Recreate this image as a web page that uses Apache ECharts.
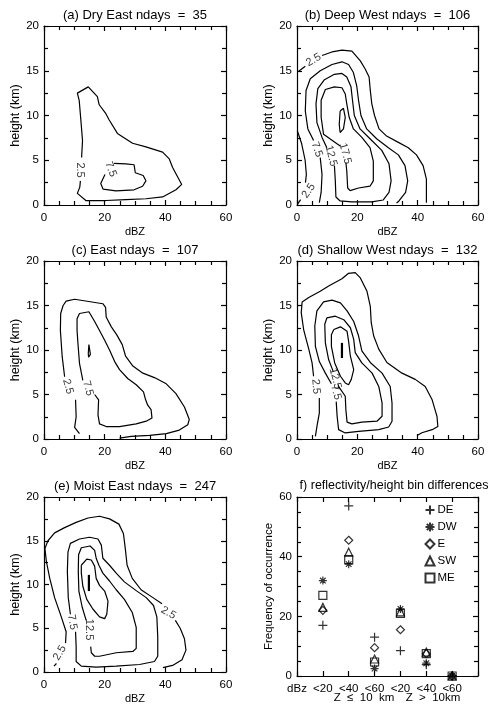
<!DOCTYPE html>
<html>
<head>
<meta charset="utf-8">
<script src="https://cdn.jsdelivr.net/npm/echarts@6/dist/echarts.min.js"></script>
<style>
  html, body { margin: 0; padding: 0; background: #fff; }
  #chart { width: 492px; height: 705px; }
</style>
</head>
<body>
<div id="chart"></div>
<script>
// contour lines, each level is a list of segments of [dBZ, height km]
const dryEast25 = [[[12.4,5.3],[12.7,7.2],[12.1,9.7],[11.6,11.7],[11,12.5],[14.6,13.2],[17.6,12.1],[18.2,11.2],[20.4,10.2],[21.5,9.5],[24.2,8.0],[29.2,6.9],[33.6,6.5],[39.1,5.9],[41.3,5.15],[42.4,4.2],[43.5,3.5],[45.4,2.3],[43.5,1.7],[39.1,0.9],[33.6,0.7],[27,0.6],[20.4,0.5],[13.8,0.5],[11,1.3],[11.8,2.0],[12,2.7]]];
const dryEast75 = [[[23.1,4.66],[27,4.6],[29.7,4.5],[30.1,3.6],[32.7,3.3],[33.6,2.7],[32.5,2.1],[29.7,1.7],[23.7,1.58],[19.5,1.77],[18.7,2.4],[20.1,3.4]]];

const deepWest25 = [
  [[0.55,14.95],[2.75,15.5]],
  [[8.3,16.7],[11.6,17.1],[14.9,17.3],[18.2,17.2],[21.0,16.1],[22.6,15.2],[23.9,14.3],[24.3,12.8],[24.8,11.3],[25.7,10.0],[27.2,8.5],[29.7,7.7],[33.6,7.0],[36.9,6.4],[39.6,5.6],[41.8,4.4],[42.9,2.9],[42.9,1.6],[42.9,0.26]],
  [[0.1,8.3],[1.5,6.9],[2.7,5.0],[3.1,3.4],[2.8,2.5]],
  [[1.2,0.6],[0.3,0.15]]
];
const deepWest75 = [
  [[5.5,7.2],[3.6,8.5],[2.75,10.5],[3.0,12.8],[4.4,14.1],[7.7,15.0],[11.6,15.7],[14.9,16.0],[17.1,15.7],[18.7,14.8],[19.8,13.3],[20.4,11.7],[21.2,10.0],[23.1,8.5],[26.4,7.4],[30.3,6.4],[33.6,5.6],[35.8,4.4],[36.7,2.7],[36,1.4],[33.8,0.45],[33,0.22]],
  [[7.7,5.3],[8.3,3.4],[8.0,1.4],[7.4,0.26]]
];
const deepWest125 = [
  [[9.9,6.4],[8.3,7.55],[6.6,9.2],[6.3,11.3],[6.9,13],[9.1,14],[12.4,14.6],[14.9,14.7],[16.5,14.3],[17.9,13.2],[18.4,11.7],[19,10],[20.9,8.5],[24.2,7.4],[28.1,6.1],[30.5,4.6],[31.2,2.7],[30.5,1.4],[28.6,0.56],[24.8,0.34],[18.2,0.34],[14.3,0.45],[12.9,0.9],[12.7,2.7],[12.4,4.4]]
];
const deepWest175 = [
  [[14.3,6.6],[8.8,7.9],[8.0,9.8],[8,11.7],[9.4,12.9],[12.4,13.2],[14.9,13.1],[16,12.4],[16.5,11.3],[17.3,9.8],[18.7,8.5],[21.5,7.55],[24.2,6.4],[25.3,4.9],[25.3,2.7],[24.2,2.1],[20.4,1.9],[17.6,1.6],[16.8,1.9],[16.5,3.8],[16.2,4.75]]
];
const deepWest225 = [[[14.3,10.5],[15.4,10.8],[16,9.8],[15.4,8.5],[14.3,8.1],[14,9],[14.3,10.5]]];

const east25 = [
  [[6.8,7.0],[6.0,9.25],[5.4,12.2],[5.5,14.1],[6.3,15.0],[7.3,15.5],[10.1,15.7],[19.4,15.2],[20.3,14.8],[20.5,13.7],[22.2,12.6],[24,11.7],[25.8,10.6],[26.9,9.3],[29.3,8.2],[32.6,7.4],[36.4,6.9],[40.3,6.2],[43.5,5.1],[46.3,3.6],[47.9,2.2],[47.4,1.6],[44.6,1.0],[40.3,0.6],[34.8,0.4],[28.7,0.3],[24.9,0.1]],
  [[10.4,4.4],[10.6,2.5],[10.1,1.3],[11.7,0.6]]
];
const east75 = [
  [[12.8,6.6],[11.7,8.5],[11.2,10.7],[10.9,12.2],[10.9,13.5],[11.7,14.1],[14.8,14.3],[16.7,13.2],[18.3,12.2],[20,11.1],[21.6,10],[23.3,8.7],[24.9,7.8],[27.6,6.8],[30.4,6.1],[32.8,5.3],[33.5,4.4],[34.2,3.8],[35.3,3.3],[35.6,2.35],[33.7,2.0],[30.4,1.7],[24.9,1.4],[20.5,1.4],[18.3,1.7],[17.8,2.7],[18,4.4],[16.7,5.0]]
];
const east125 = [[[14.8,10.6],[15.2,10.4],[15.3,9.5],[14.7,9.2],[14.6,9.6],[14.8,10.6]]];

const shallowWest25 = [
  [[5.5,7.05],[5.0,8.55],[3.9,10.1],[2.2,12.3],[1.4,14.2],[1.7,15.4],[3.9,15.9],[7.7,16.6],[10.5,17.2],[14.9,18.0],[17,18.6],[19.3,18.7],[21,18.1],[23.2,16.6],[24.3,14.9],[24.6,13.1],[25.4,11.6],[27.1,10.1],[29.8,8.6],[34.8,7.4],[39.2,6.7],[42.5,5.9],[44.8,4.4],[46.4,2.55],[46.7,1.4],[44.8,1.05],[41.4,0.7],[39.8,0.4]],
  [[7.4,4.6],[7.4,2.9],[6.6,1.4],[6.1,0.3]]
];
const shallowWest75 = [
  [[11.4,6.2],[9.4,7.4],[7.4,8.7],[6.1,10.4],[5.9,12.7],[6.6,14.4],[8.8,15.4],[11.6,15.6],[14.4,15.3],[16.6,14.4],[18.8,13.2],[20.4,11.6],[21.5,9.9],[24.3,8.6],[28.2,7.4],[30.9,5.9],[31.5,4.05],[31.5,2.0],[30.4,1.35],[27.1,1.05],[20.4,0.86],[16,0.68],[13.8,1.05],[13.3,2.55],[13,4.2]]
];
const shallowWest125 = [
  [[12,7.6],[10.5,8.9],[9.4,10.8],[9.2,12.9],[9.9,13.6],[12.7,13.8],[15.5,13.4],[17.7,12.5],[18.8,11.2],[19.3,9.7],[21.5,8.55],[24.9,7.4],[27.1,5.9],[28.2,4.05],[28.2,2.55],[26.5,2.0],[21.5,1.9],[18.2,1.7],[16.6,1.9],[16.2,3.3],[16,4.8],[13.6,6.0]]
];
const shallowWest175 = [[[12.2,12.3],[14.4,12.6],[16.6,12.1],[17.1,11],[17.7,9.3],[18.8,7.8],[18,6.7],[17.1,6.1],[16,6.3],[14.4,7.05],[12.5,8.55],[11.4,10.4],[11.4,11.7],[12.2,12.3]]];
const shallowWest225 = [[[14.9,10.8],[14.9,9.1]]];

const moistEast25 = [
  [[3.3,0.67],[4.1,0.97]],
  [[7.1,3.3],[7.3,4.6],[5.7,6.3],[3.5,8.5],[1.9,10.7],[0.8,12.6],[0.3,14.1],[1.3,15.0],[3.5,15.9],[6.8,16.5],[10.6,17.1],[14.5,17.6],[18.3,17.8],[21.6,17.5],[24.7,16.9],[26.2,15.8],[26.8,14.1],[27.4,12.2],[29.1,10.7],[32,9.4],[35.9,8.5],[38.9,7.8]],
  [[43.3,5.9],[44.9,5.0],[46.3,3.8],[46.8,2.5],[45.5,1.4],[42.4,0.75],[39.2,0.5]]
];
const moistEast75 = [
  [[8.7,6.6],[8.0,8.5],[7.7,11.5],[7.9,13.7],[8.7,14.7],[11.7,15.2],[15,15.4],[17.8,15.2],[18.9,14.5],[19.4,13],[21.6,12.2],[23.8,11.3],[26.5,10.3],[30.4,9.3],[33.7,8.5],[36.1,7.6],[37.2,6.3],[37.5,4.0],[37.5,1.8],[36.4,1.2],[31.5,0.86],[23.8,0.67],[17.2,0.56],[12.3,0.67],[10.6,1.2],[10.6,2.9],[10.4,4.6]]
];
const moistEast125 = [
  [[13.9,5.9],[12.6,7.4],[11.5,9.25],[11.3,11.5],[11.4,13.4],[12.3,14.2],[15.2,14.4],[16.7,13.9],[17.2,13],[18.1,12.2],[19.4,11.3],[21.6,10.4],[23.8,9.4],[26.5,8.3],[29.1,6.8],[30.4,5.1],[30.4,2.7],[29.3,2.35],[23.8,2.2],[18.3,1.8],[16.7,1.8],[15.6,2.2],[15.4,2.9]]
];
const moistEast175 = [[[12.3,12.2],[14.1,12.9],[15.6,12.8],[16.7,12.1],[17.2,10.7],[18.3,9.9],[20,9.25],[21.1,8.1],[20.7,6.6],[20,6.1],[18.3,6.3],[16.1,7.2],[14.1,8.3],[12.8,9.8],[12.3,11.3],[12.3,12.2]]];
const moistEast225 = [[[14.8,11.1],[14.8,9.25]]];

// contour labels: [dBZ, height, text, rotation]
const dryEastLabels = [[11.8,3.9,'2.5',-90],[22,4.0,'7.5',-70]];
const deepWestLabels = [[5.5,16.2,'2.5',30],[3.85,1.6,'2.5',55],[6.6,6.2,'7.5',-70],[11.3,5.5,'12.5',-75],[16,5.75,'17.5',-75]];
const eastLabels = [[7.9,5.9,'2.5',-75],[14.5,5.7,'7.5',-75]];
const shallowWestLabels = [[6.3,5.9,'2.5',-85],[12.7,6.8,'12.5',-75],[12.9,5.25,'7.5',-75]];
const moistEastLabels = [[5.2,2.2,'2.5',60],[9.3,5.7,'7.5',-80],[14.8,4.85,'12.5',-90],[41,6.75,'2.5',-30]];

// panel f
const binLabels = ['dBz','<20','<40','<60','<20','<40','<60'];
const freqDE = [17, 57, 13, 8.5, 3.8, 0];
const freqDW = [32, 37.5, 2.5, 22.5, 4.3, 0];
const freqE = [22, 45.5, 9.5, 15.5, 7.5, 0];
const freqSW = [23, 41.5, 5.7, 21.5, 8, 0];
const freqME = [27, 39, 4.7, 21, 7.5, 0];

const panels = [
  {title: '(a) Dry East ndays  =  35', levels: [dryEast25, dryEast75], labels: dryEastLabels},
  {title: '(b) Deep West ndays  =  106', levels: [deepWest25, deepWest75, deepWest125, deepWest175, deepWest225], labels: deepWestLabels},
  {title: '(c) East ndays  =  107', levels: [east25, east75, east125], labels: eastLabels},
  {title: '(d) Shallow West ndays  =  132', levels: [shallowWest25, shallowWest75, shallowWest125, shallowWest175, shallowWest225], labels: shallowWestLabels},
  {title: '(e) Moist East ndays  =  247', levels: [moistEast25, moistEast75, moistEast125, moistEast175, moistEast225], labels: moistEastLabels}
];

const FONT = 'Liberation Sans, Arial, sans-serif';
const boxes = [
  {left: 44, top: 26, width: 182, height: 179},
  {left: 297, top: 26, width: 181, height: 179},
  {left: 44, top: 261, width: 182, height: 178},
  {left: 297, top: 261, width: 181, height: 178},
  {left: 44, top: 497, width: 182, height: 179},
  {left: 297, top: 497, width: 181, height: 179}
];

function axisPair(kind, idx, opts) {
  const base = {
    type: 'value', gridIndex: idx, min: opts.min, max: opts.max, interval: opts.interval,
    axisLine: {show: true, onZero: false, lineStyle: {color: '#000', width: 1.2}},
    axisTick: {show: true, inside: true, length: 5, lineStyle: {color: '#000', width: 1.2}},
    minorTick: {show: true, splitNumber: opts.minor, length: 4, lineStyle: {color: '#000', width: 1.2}},
    splitLine: {show: false}
  };
  const main = Object.assign({}, base, {
    position: kind === 'x' ? 'bottom' : 'left',
    name: opts.name, nameLocation: 'middle', nameGap: opts.nameGap,
    nameTextStyle: {color: '#000', fontFamily: FONT, fontSize: opts.nameSize || 11},
    axisLabel: {show: true, color: '#000', fontFamily: FONT, fontSize: 11.5, margin: kind === 'x' ? 7 : 5,
      formatter: opts.formatter}
  });
  const mirror = Object.assign({}, base, {
    position: kind === 'x' ? 'top' : 'right',
    axisLabel: {show: false}
  });
  return [main, mirror];
}

const grid = boxes.map(b => Object.assign({containLabel: false}, b));
const xAxis = [];
const yAxis = [];
const series = [];
const graphic = [];

panels.forEach((p, i) => {
  xAxis.push(...axisPair('x', i, {min: 0, max: 60, interval: 20, minor: 4, name: 'dBZ', nameGap: 21, nameSize: 11}));
  yAxis.push(...axisPair('y', i, {min: 0, max: 20, interval: 5, minor: 2, name: 'height (km)', nameGap: 17, nameSize: 12.5}));
  p.levels.forEach(level => {
    level.forEach(seg => {
      series.push({
        type: 'line', xAxisIndex: 2 * i, yAxisIndex: 2 * i, data: seg,
        symbol: 'none', smooth: false, silent: true, animation: false,
        lineStyle: {color: '#000', width: seg.length === 2 && level.length === 1 ? 2.2 : 1.2}
      });
    });
  });
  series.push({
    type: 'scatter', xAxisIndex: 2 * i, yAxisIndex: 2 * i, silent: true, animation: false,
    symbolSize: 1, itemStyle: {color: 'rgba(0,0,0,0)'},
    data: p.labels.map(l => ({
      value: [l[0], l[1], l[2]],
      label: {show: true, position: 'inside', formatter: l[2], rotate: l[3],
        color: '#000', fontFamily: FONT, fontSize: 11}
    }))
  });
  const b = boxes[i];
  graphic.push({
    type: 'text', x: b.left + b.width / 2, y: b.top - 11,
    style: {text: p.title, fill: '#000', font: '13px ' + FONT, textAlign: 'center', textVerticalAlign: 'middle'}
  });
});

// panel f
xAxis.push(...axisPair('x', 5, {min: 0, max: 7, interval: 1, minor: 1,
  formatter: v => (v < binLabels.length ? binLabels[v] : '')}));
yAxis.push(...axisPair('y', 5, {min: 0, max: 60, interval: 20, minor: 4, name: 'Frequency of occurrence', nameGap: 18, nameSize: 11.5}));
xAxis[10].minorTick = {show: false};
xAxis[11].minorTick = {show: false};

const plusPath = 'path://M0,5L10,5M5,0L5,10';
const starPath = 'path://M0,5L10,5M5,0L5,10M1.5,1.5L8.5,8.5M8.5,1.5L1.5,8.5';
const regimes = [
  {name: 'DE', values: freqDE, symbol: plusPath, size: 9},
  {name: 'DW', values: freqDW, symbol: starPath, size: 8},
  {name: 'E', values: freqE, symbol: 'diamond', size: 8},
  {name: 'SW', values: freqSW, symbol: 'triangle', size: 8},
  {name: 'ME', values: freqME, symbol: 'rect', size: 8}
];
regimes.forEach(r => {
  series.push({
    type: 'scatter', name: r.name, xAxisIndex: 10, yAxisIndex: 10, animation: false,
    symbol: r.symbol, symbolSize: r.size,
    itemStyle: {color: 'none', borderColor: '#000', borderWidth: 1.2},
    data: r.values.map((v, k) => [k + 1, v])
  });
});

const fb = boxes[5];
graphic.push({
  type: 'text', x: 394, y: fb.top - 11,
  style: {text: 'f) reflectivity/height bin differences', fill: '#000', font: '12.5px ' + FONT, textAlign: 'center', textVerticalAlign: 'middle'}
});
graphic.push({
  type: 'text', x: 364, y: 698,
  style: {text: 'Z  \u2264  10  km', fill: '#000', font: '11.5px ' + FONT, textAlign: 'center', textVerticalAlign: 'middle'}
});
graphic.push({
  type: 'text', x: 433, y: 698,
  style: {text: 'Z  >  10km', fill: '#000', font: '11.5px ' + FONT, textAlign: 'center', textVerticalAlign: 'middle'}
});

const chart = echarts.init(document.getElementById('chart'), null, {renderer: 'canvas'});
chart.setOption({
  backgroundColor: '#fff',
  animation: false,
  textStyle: {fontFamily: FONT},
  grid: grid,
  xAxis: xAxis,
  yAxis: yAxis,
  legend: {
    orient: 'vertical', left: 423, top: 503, padding: 0,
    itemWidth: 9, itemHeight: 9, itemGap: 3, selectedMode: false,
    data: regimes.map(r => r.name),
    textStyle: {color: '#000', fontSize: 11.5, fontFamily: FONT, padding: [0, 0, 0, -2]}
  },
  graphic: graphic,
  series: series
});
</script>
</body>
</html>
